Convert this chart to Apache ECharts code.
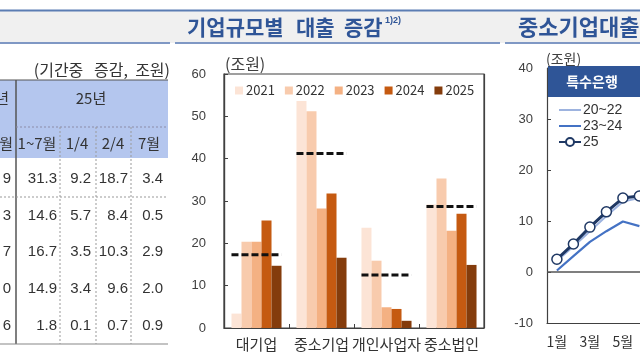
<!DOCTYPE html>
<html><head><meta charset="utf-8">
<script src="https://cdn.jsdelivr.net/npm/echarts@6/dist/echarts.min.js"></script>
<style>html,body{margin:0;padding:0;background:#fff}#c{width:640px;height:360px}</style>
</head><body><div id="c"></div>
<script>
// ---------- data ----------
const barCategories = ['대기업', '중소기업', '개인사업자', '중소법인'];
const barYears = ['2021', '2022', '2023', '2024', '2025'];
const bar2021 = [3.4, 53.6, 23.7, 29.2];
const bar2022 = [20.4, 51.2, 15.9, 35.3];
const bar2023 = [20.4, 28.2, 4.9, 23.0];
const bar2024 = [25.4, 31.8, 4.5, 27.0];
const bar2025 = [14.7, 16.6, 1.7, 14.9];
const barAverage = [17.3, 41.2, 12.5, 28.7];
const barYTicks = [0, 10, 20, 30, 40, 50, 60];

const lineMonths = ['1월', '2월', '3월', '4월', '5월', '6월', '7월', '8월', '9월', '10월', '11월', '12월'];
const lineMonthTicks = [1, 3, 5];
const lineNames = ['20~22', '23~24', '25'];
const line2022 = [2.2, 5.0, 8.0, 11.0, 13.8, 14.5];
const line2324 = [0.3, 3.1, 5.9, 8.0, 9.9, 9.0];
const line25 = [2.5, 5.5, 8.8, 11.8, 14.5, 14.9];
const lineYTicks = [-10, 0, 10, 20, 30, 40];

const tableUnit = '(기간중   증감,  조원)';
const tablePeriod = '25년';
const tableSubCols = ['1~7월', '1/4', '2/4', '7월'];
const tablePrevHead = ['년', '월'];
const tablePrevTail = ['9', '3', '7', '0', '6'];
const colJan2Jul = ['31.3', '14.6', '16.7', '14.9', '1.8'];
const colQ1 = ['9.2', '5.7', '3.5', '3.4', '0.1'];
const colQ2 = ['18.7', '8.4', '10.3', '9.6', '0.7'];
const colJul = ['3.4', '0.5', '2.9', '2.0', '0.9'];

const titleLeftWords = ['기업규모별', '대출', '증감'];
const titleLeftNote = '1)2)';
const titleRight = '중소기업대출';
const lineLegendHead = '특수은행';

// ---------- styles ----------
const KR = '"Noto Sans CJK KR", "Noto Sans", sans-serif';
const NUM = '"Liberation Sans", Arial, sans-serif';
const txt = '#404040';
const barColors = ['#fce4d6', '#f8cbad', '#f4b183', '#c55a11', '#843c0c'];
const barSeriesData = [bar2021, bar2022, bar2023, bar2024, bar2025];

const chart = echarts.init(document.getElementById('c'), null, {renderer: 'canvas'});

// ---------- graphics: title band & table ----------
const g = [];
function T(text, x, y, opt) {
  opt = opt || {};
  g.push({type: 'text', silent: true, z: 10, style: {
    text: text, x: x, y: y,
    fill: opt.fill || '#333',
    font: (opt.weight || 'normal') + ' ' + (opt.size || 15) + 'px ' + (opt.family || KR),
    textAlign: opt.align || 'left', align: opt.align || 'left',
    textVerticalAlign: 'middle', verticalAlign: 'middle'
  }});
}
function L(x1, y1, x2, y2, stroke, w, dash) {
  g.push({type: 'line', silent: true, z: 5, shape: {x1: x1, y1: y1, x2: x2, y2: y2},
    style: {stroke: stroke, lineWidth: w || 1, lineDash: dash || null}});
}
// title band
g.push({type: 'rect', silent: true, z: 1, shape: {x: 0, y: 10, width: 640, height: 33}, style: {fill: '#f0f0f0'}});
L(0, 10.5, 640, 10.5, '#5b7db3', 2);
L(0, 43, 170, 43, '#7f98c4', 2);
L(175, 43, 500, 43, '#7f98c4', 2);
L(505, 43, 640, 43, '#7f98c4', 2);
const titleWordX = [187, 296, 344];
titleLeftWords.forEach((w, i) => T(w, titleWordX[i], 27, {size: 21, weight: 'bold', fill: '#2f5597'}));
T(titleLeftNote, 385, 21, {size: 9, weight: 'bold', fill: '#2f5597', family: NUM});
T(titleRight, 518, 27, {size: 22, weight: 'bold', fill: '#2f5597'});

// table
g.push({type: 'rect', silent: true, z: 1, shape: {x: 0, y: 80, width: 168, height: 78}, style: {fill: '#b4c6ee'}});
T(tableUnit, 170, 70, {size: 16, align: 'right'});
L(0, 80, 168, 80, '#555', 1);
L(16, 80, 16, 344, '#555', 1.5);
L(0, 344, 168, 344, '#888', 1.2);
L(16, 127, 168, 127, '#8c8ca8', 1, [2, 2]);
L(0, 197, 168, 197, '#999', 1, [2, 2]);
const colSep = [60, 96, 131];
colSep.forEach(x => L(x, 127, x, 344, '#999', 1, [2, 2]));
T(tablePeriod, 91, 98, {size: 15, align: 'center'});
T(tablePrevHead[0], 9, 98, {size: 15, align: 'right'});
T(tablePrevHead[1], 13, 143, {size: 15, align: 'right'});
const subCenters = [37, 77, 113, 149];
tableSubCols.forEach((s, i) => T(s, subCenters[i], 143, {size: 15, align: 'center'}));
const rowY0 = 179, rowStep = 36.6;
const tableCols = [colJan2Jul, colQ1, colQ2, colJul];
const colRight = [57, 91, 128, 163];
tableCols.forEach((col, ci) => {
  col.forEach((v, ri) => T(v, colRight[ci], rowY0 + ri * rowStep, {size: 15, align: 'right', family: NUM}));
});
tablePrevTail.forEach((v, ri) => T(v, 11, rowY0 + ri * rowStep, {size: 15, align: 'right', family: NUM}));

// chart texts
T('(조원)', 225, 64, {size: 16, fill: txt});
T('(조원)', 546, 59, {size: 14, fill: txt});
g.push({type: 'rect', silent: true, z: 8, shape: {x: 548, y: 66, width: 100, height: 31}, style: {fill: '#2f5597'}});
T(lineLegendHead, 592, 82, {size: 14, weight: 'bold', fill: '#fff', align: 'center'});

// ---------- series ----------
const series = [];
barYears.forEach((y, i) => {
  series.push({
    name: y, type: 'bar', xAxisIndex: 0, yAxisIndex: 0,
    data: barSeriesData[i], barGap: '0%', barCategoryGap: '23%',
    itemStyle: {color: barColors[i]}, z: 2
  });
});
series.push({
  name: '평균', type: 'custom', xAxisIndex: 0, yAxisIndex: 0, z: 4,
  data: barAverage.map((v, i) => [i, v]),
  renderItem: function (params, api) {
    const p = api.coord([api.value(0), api.value(1)]);
    const w = api.size([1, 0])[0] * 0.77;
    return {type: 'line', shape: {x1: p[0] - w / 2, y1: p[1], x2: p[0] + w / 2, y2: p[1]},
      style: {stroke: '#111', lineWidth: 3, lineDash: [7, 3]}};
  }
});
const toPts = arr => arr.map((v, i) => [i + 1, v]);
series.push({
  name: lineNames[0], type: 'line', xAxisIndex: 1, yAxisIndex: 1, data: toPts(line2022),
  symbol: 'none', lineStyle: {color: '#9db3df', width: 2}, itemStyle: {color: '#9db3df'}, z: 3
});
series.push({
  name: lineNames[1], type: 'line', xAxisIndex: 1, yAxisIndex: 1, data: toPts(line2324),
  symbol: 'none', lineStyle: {color: '#4472c4', width: 2.2}, itemStyle: {color: '#4472c4'}, z: 3,
  markLine: {silent: true, symbol: ['none', 'none'], label: {show: false},
    lineStyle: {color: '#555', width: 1.5, type: 'solid'}, data: [{yAxis: 0}]}
});
series.push({
  name: lineNames[2], type: 'line', xAxisIndex: 1, yAxisIndex: 1, data: toPts(line25),
  symbol: 'circle', symbolSize: 10, showSymbol: true,
  lineStyle: {color: '#1f3864', width: 3},
  itemStyle: {color: '#fff', borderColor: '#1f3864', borderWidth: 1.5}, z: 5
});

const option = {
  animation: false,
  backgroundColor: '#fff',
  textStyle: {fontFamily: KR},
  grid: [
    {left: 224, top: 74, width: 260, height: 254, show: true, borderColor: '#404040', borderWidth: 1.2, backgroundColor: 'transparent'},
    {left: 547, top: 68, right: 0, height: 255}
  ],
  legend: [
    {data: barYears, left: 230, top: 79, itemWidth: 8, itemHeight: 8, itemGap: 10, icon: 'rect',
      textStyle: {fontSize: 13, color: '#333', fontFamily: KR, padding: [0, 0, 0, -2]}},
    {data: [
        {name: lineNames[0], itemStyle: {opacity: 0}},
        {name: lineNames[1], itemStyle: {opacity: 0}},
        {name: lineNames[2]}
      ], orient: 'vertical', left: 553, top: 98, itemWidth: 22, itemHeight: 10, itemGap: 2,
      textStyle: {fontSize: 14, color: '#333', fontFamily: NUM, padding: [0, 0, 0, -3]}}
  ],
  xAxis: [
    {type: 'category', gridIndex: 0, data: barCategories, boundaryGap: true,
      axisLine: {lineStyle: {color: '#404040', width: 1.2}},
      axisTick: {show: true, inside: true, length: 4, lineStyle: {color: '#404040'}},
      axisLabel: {interval: 0, fontSize: 15, color: '#333', margin: 9, fontFamily: KR},
      splitLine: {show: true, interval: function (index) { return index === 2; }, lineStyle: {color: '#404040', width: 1.2}}},
    {type: 'value', gridIndex: 1, min: 0.4, max: 0.4 + 93 / 16.5,
      axisLine: {onZero: false, lineStyle: {color: '#404040', width: 1.2}},
      axisTick: {show: false},
      splitLine: {show: false},
      axisLabel: {customValues: lineMonthTicks, formatter: v => lineMonths[Math.round(v) - 1],
        fontSize: 14, color: '#333', margin: 12, fontFamily: KR, hideOverlap: false}}
  ],
  yAxis: [
    {type: 'value', gridIndex: 0, min: barYTicks[0], max: barYTicks[barYTicks.length - 1], interval: 10,
      axisLine: {show: true, lineStyle: {color: '#404040', width: 1.2}},
      axisTick: {show: true, inside: true, length: 4, lineStyle: {color: '#404040'}},
      splitLine: {show: false},
      axisLabel: {fontSize: 13, color: txt, margin: 18, fontFamily: NUM}},
    {type: 'value', gridIndex: 1, min: lineYTicks[0], max: lineYTicks[lineYTicks.length - 1], interval: 10,
      axisLine: {show: true, lineStyle: {color: '#404040', width: 1.2}},
      axisTick: {show: true, inside: true, length: 4, lineStyle: {color: '#404040'}},
      splitLine: {show: false},
      axisLabel: {fontSize: 13, color: txt, margin: 14, fontFamily: NUM}}
  ],
  series: series,
  graphic: g
};
chart.setOption(option);
</script></body></html>
